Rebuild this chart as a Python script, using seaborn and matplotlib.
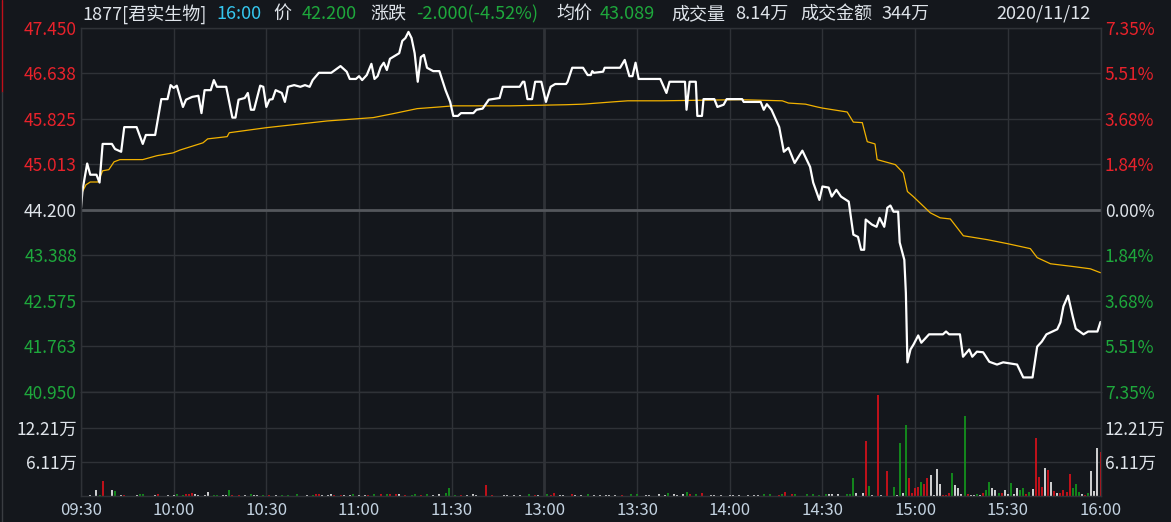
import pandas as pd
import matplotlib.pyplot as plt
from matplotlib.lines import Line2D
import seaborn as sns

# 分时数据 (分钟序号: 0 = 09:30, 150 = 12:00/13:00, 330 = 16:00)
price_minute = [0, 0.5, 2, 3, 5, 6, 7, 10, 11, 13, 14, 18, 20, 21, 24, 26, 28, 29, 30, 31,
                33, 34, 36, 38, 39, 40, 42, 43, 44, 47, 49, 50, 51, 53, 54, 55, 56, 58, 59, 60,
                61, 62, 63, 65, 66, 67, 69, 71, 72.5, 74, 75, 77, 81, 84, 86, 87, 89, 90, 91, 92.5,
                94, 95, 96, 97, 98, 99, 100, 103, 104, 105, 106, 107, 108, 109, 110, 111, 112, 114, 116, 118,
                119.5, 120.5, 122, 123, 127, 128, 130, 132, 135.5, 136.5, 142, 143, 143.5, 144.5, 146, 147, 149, 150.5, 152, 153.5,
                157, 157.5, 159, 162.5, 164, 165, 165.5, 166, 169, 169.5, 174.5, 176, 177.5, 178.5, 179.5, 180.5, 187.5, 189.5, 190.5, 195.5,
                196, 197, 199, 199.5, 201, 201.5, 205, 206, 208, 209, 214, 214.5, 220, 221, 222, 223.5, 226, 227.5, 229, 231,
                233.5, 236, 237, 239, 240, 242, 243, 244.5, 246, 248.5, 250, 251.5, 252.5, 253.5, 254, 256, 257.5, 258.5, 260, 261,
                262, 263, 264.5, 265, 266.5, 267, 267.5, 268.5, 269.5, 271, 272, 274.5, 279, 280, 281, 284.5, 285.5, 287.5, 288.5, 290,
                292, 294, 296.5, 298.5, 303, 305, 308, 309.5, 311, 312.5, 316, 317, 318, 319.5, 321, 322, 324.5, 326, 329, 330]
price_value = [44.24, 44.56, 45.03, 44.83, 44.83, 44.69, 45.38, 45.38, 45.29, 45.24, 45.68, 45.68, 45.38, 45.54, 45.54, 46.18, 46.18, 46.43, 46.38, 46.42,
               46.04, 46.17, 46.22, 46.24, 45.93, 46.34, 46.34, 46.52, 46.40, 46.40, 45.85, 45.85, 46.17, 46.20, 46.29, 45.99, 45.99, 46.42, 46.40, 46.04,
               46.17, 46.18, 46.34, 46.29, 46.13, 46.40, 46.43, 46.40, 46.43, 46.40, 46.52, 46.65, 46.65, 46.77, 46.67, 46.54, 46.54, 46.59, 46.52, 46.61,
               46.81, 46.54, 46.59, 46.75, 46.83, 46.70, 46.90, 47.00, 47.22, 47.27, 47.38, 47.27, 47.00, 46.49, 46.93, 46.97, 46.74, 46.68, 46.68, 46.34,
               46.13, 45.88, 45.88, 45.93, 45.93, 45.99, 46.01, 46.17, 46.20, 46.40, 46.40, 46.49, 46.49, 46.18, 46.18, 46.49, 46.49, 46.13, 46.40, 46.45,
               46.45, 46.49, 46.74, 46.74, 46.61, 46.61, 46.68, 46.65, 46.67, 46.74, 46.74, 46.88, 46.59, 46.59, 46.83, 46.54, 46.54, 46.29, 46.49, 46.49,
               45.99, 46.49, 46.49, 45.88, 45.88, 46.18, 46.18, 46.04, 46.08, 46.18, 46.18, 46.13, 46.13, 45.99, 46.09, 45.99, 45.68, 45.24, 45.31, 45.04,
               45.26, 44.97, 44.69, 44.38, 44.62, 44.60, 44.44, 44.56, 44.44, 44.35, 43.76, 43.72, 43.49, 43.49, 44.03, 43.94, 43.90, 44.06, 43.90, 44.24,
               44.28, 44.17, 44.17, 43.62, 43.31, 42.72, 41.48, 41.71, 41.80, 41.96, 41.83, 41.98, 41.98, 42.03, 41.98, 41.98, 41.58, 41.71, 41.58, 41.67,
               41.66, 41.49, 41.44, 41.48, 41.44, 41.21, 41.21, 41.76, 41.85, 41.98, 42.07, 42.19, 42.48, 42.67, 42.30, 42.08, 41.98, 42.03, 42.03, 42.20]

avg_minute = [0.5, 1.6, 3, 5.5, 7, 9, 10.7, 12.6, 20, 24.6, 29.8, 32, 39.5, 41, 47.3, 48, 60, 79.7, 94.6, 101,
              108.8, 116, 120.5, 139, 157, 162.5, 172, 177, 188, 213.4, 227, 229, 234.5, 238.3, 240, 248, 250, 252.9, 254.5, 257,
              257.7, 263.6, 266.2, 267.5, 269.4, 274.9, 278.1, 281.4, 285.6, 293.4, 299.8, 307.3, 309.5, 313.8, 321.2, 326.7, 330]
avg_value = [44.53, 44.65, 44.70, 44.70, 44.90, 44.92, 45.06, 45.10, 45.10, 45.17, 45.22, 45.27, 45.40, 45.47, 45.51, 45.58, 45.67, 45.79, 45.85, 45.92,
             46.01, 46.04, 46.06, 46.06, 46.08, 46.09, 46.13, 46.15, 46.15, 46.17, 46.15, 46.11, 46.09, 46.04, 46.02, 45.95, 45.77, 45.76, 45.42, 45.38,
             45.10, 45.01, 44.86, 44.53, 44.44, 44.15, 44.06, 44.04, 43.74, 43.67, 43.60, 43.51, 43.35, 43.24, 43.19, 43.15, 43.08]

# 成交量 (万), 按涨/跌/平分组
up_minute = [0, 7, 14, 25, 34, 35, 36, 49, 51, 61, 76, 77, 82, 84, 93, 97, 100, 102, 105, 110,
             123, 131, 133, 147, 152, 153, 159, 175, 197, 201, 226, 228, 230, 254, 258, 261, 268, 269, 270, 271,
             273, 274, 279, 280, 281, 287, 292, 298, 306, 309, 310, 311, 313, 315, 317, 318, 319, 320, 325, 330]
up_volume = [0.36, 2.75, 0.2, 0.4, 0.3, 0.3, 0.5, 0.2, 0.2, 0.2, 0.4, 0.3, 0.2, 0.2, 0.2, 0.3, 0.3, 0.4, 0.2, 0.2,
             0.2, 2.0, 0.2, 0.2, 0.2, 0.5, 0.4, 0.2, 0.4, 0.5, 0.2, 0.8, 0.3, 9.8, 18.1, 4.5, 3.3, 0.5, 1.4, 1.6,
             2.2, 3.3, 0.2, 0.2, 0.5, 0.4, 0.5, 0.5, 0.4, 10.4, 3.5, 1.7, 4.7, 0.9, 0.5, 1.1, 0.8, 4.0, 0.2, 8.0]

down_minute = [6, 11, 19, 20, 31, 33, 43, 44, 48, 55, 59, 65, 67, 70, 75, 88, 95, 99, 107, 108,
               112, 118, 119, 121, 145, 151, 164, 178, 180, 190, 196, 199, 221, 223, 227, 231, 235, 237, 239, 241,
               248, 249, 250, 255, 263, 265, 267, 272, 282, 286, 290, 293, 294, 297, 301, 304, 305, 307, 321, 322,
               323, 326]
down_volume = [0.2, 0.9, 0.3, 0.3, 0.3, 0.2, 0.2, 0.2, 1.0, 0.3, 0.2, 0.2, 0.2, 0.4, 0.2, 0.3, 0.3, 0.3, 0.2, 0.3,
               0.4, 0.5, 1.5, 0.2, 0.4, 0.4, 0.4, 0.4, 0.4, 0.5, 0.8, 0.4, 0.4, 0.3, 0.4, 0.4, 0.4, 0.4, 0.2, 0.4,
               0.3, 0.3, 3.3, 1.8, 1.6, 9.6, 12.8, 2.6, 4.2, 14.3, 0.4, 1.0, 2.6, 0.5, 2.4, 1.0, 1.5, 0.8, 1.4, 2.2,
               0.8, 0.5]

flat_minute = [3, 5, 10, 13, 18, 24, 28, 30, 37, 38, 40, 41, 46, 47, 53, 56, 57, 63, 73, 78,
               80, 81, 85, 87, 90, 92, 103, 114, 116, 125, 127, 128, 137, 138, 140, 142, 148, 155, 156, 160,
               162, 166, 168, 170, 171, 173, 183, 184, 187, 189, 192, 193, 195, 204, 205, 207, 210, 211, 213, 216,
               218, 219, 242, 243, 245, 251, 253, 256, 259, 264, 266, 275, 276, 277, 278, 283, 284, 285, 288, 289,
               291, 295, 296, 299, 300, 302, 303, 308, 312, 314, 316, 324, 327, 328, 329]
flat_volume = [0.2, 1.1, 1.1, 0.2, 0.2, 0.2, 0.2, 0.2, 0.3, 0.2, 0.2, 0.8, 0.2, 0.2, 0.2, 0.2, 0.2, 0.2, 0.2, 0.2,
               0.2, 0.3, 0.2, 0.2, 0.2, 0.2, 0.3, 0.2, 0.3, 0.2, 0.4, 0.2, 0.2, 0.2, 0.2, 0.2, 0.2, 0.2, 0.2, 0.2,
               0.2, 0.2, 0.2, 0.2, 0.2, 0.2, 0.2, 0.2, 0.4, 0.2, 0.4, 0.2, 0.4, 0.2, 0.2, 0.2, 0.2, 0.2, 0.2, 0.2,
               0.2, 0.2, 0.4, 0.3, 0.3, 0.5, 0.5, 0.2, 0.2, 0.2, 0.5, 3.7, 0.2, 4.9, 2.2, 2.0, 1.4, 0.4, 0.2, 0.2,
               0.2, 1.5, 1.0, 1.0, 0.4, 0.4, 1.4, 1.3, 5.1, 2.6, 0.5, 0.4, 4.5, 0.9, 8.7]

time_ticks = [0, 30, 60, 90, 120, 150, 180, 210, 240, 270, 300, 330]
time_labels = ['09:30', '10:00', '10:30', '11:00', '11:30', '13:00', '13:30',
               '14:00', '14:30', '15:00', '15:30', '16:00']
price_ticks = [47.450, 46.638, 45.825, 45.013, 44.200, 43.388, 42.575, 41.763, 40.950]
price_labels = ['47.450', '46.638', '45.825', '45.013', '44.200', '43.388', '42.575', '41.763', '40.950']
pct_labels = ['7.35%', '5.51%', '3.68%', '1.84%', '0.00%', '1.84%', '3.68%', '5.51%', '7.35%']
vol_ticks = [6.11, 12.21]
vol_labels = ['6.11万', '12.21万']

BG = '#14171c'
GRID = '#2f3237'
RED = '#e8222b'
GREEN = '#1ea83c'
WHITE = '#dfe4ea'
AXIS_TXT = '#c3d2e0'

sns.set_theme(style='dark', rc={'figure.facecolor': BG, 'axes.facecolor': BG,
                                'axes.edgecolor': GRID, 'grid.color': GRID})
plt.rcParams['font.family'] = ['Noto Sans CJK SC', 'DejaVu Sans']

W, H = 1171, 522
fig = plt.figure(figsize=(W / 100, H / 100), dpi=100)
L, R = 81 / W, 1100.5 / W
ax = fig.add_axes([L, 1 - 392 / H, R - L, (392 - 28) / H])
axv = fig.add_axes([L, 1 - 496 / H, R - L, (496 - 392) / H])

price_df = pd.DataFrame({'minute': price_minute, 'price': price_value})
avg_df = pd.DataFrame({'minute': avg_minute, 'price': avg_value})

# 网格
for a in (ax, axv):
    for t in time_ticks:
        lw = 2.0 if t == 150 else 1.0
        a.axvline(t, color=GRID, lw=lw, zorder=0)
    for s in a.spines.values():
        s.set_color(GRID)
        s.set_linewidth(1.0)
for p in price_ticks:
    if abs(p - 44.2) < 1e-6:
        ax.axhline(p, color='#54575c', lw=2.0, zorder=0)
    else:
        ax.axhline(p, color=GRID, lw=1.0, zorder=0)
for v in vol_ticks:
    axv.axhline(v, color=GRID, lw=1.0, zorder=0)

sns.lineplot(data=avg_df, x='minute', y='price', ax=ax, color='#f2b200', lw=0.9,
             estimator=None, sort=False)
sns.lineplot(data=price_df, x='minute', y='price', ax=ax, color='white', lw=1.6,
             estimator=None, sort=False)

ax.set_xlim(0, 330)
ax.set_ylim(40.95, 47.45)
ax.set_xticks(time_ticks)
ax.set_xticklabels([])
ax.tick_params(axis='x', length=0)
ax.set_yticks(price_ticks)
ax.set_yticklabels(price_labels)
ax.tick_params(axis='y', length=0, pad=3, labelsize=12.5)
ax.set_xlabel('')
ax.set_ylabel('')
ax.grid(False)
for lab, p in zip(ax.get_yticklabels(), price_ticks):
    lab.set_color(RED if p > 44.21 else (GREEN if p < 44.19 else WHITE))

axr = ax.twinx()
axr.set_ylim(40.95, 47.45)
axr.set_yticks(price_ticks)
axr.set_yticklabels(pct_labels)
axr.tick_params(axis='y', length=0, pad=3, labelsize=12.5)
axr.grid(False)
for s in axr.spines.values():
    s.set_visible(False)
for lab, p in zip(axr.get_yticklabels(), price_ticks):
    lab.set_color(RED if p > 44.21 else (GREEN if p < 44.19 else WHITE))

# 成交量
axv.vlines(up_minute, 0, up_volume, color='#e0101a', lw=1.2)
axv.vlines(down_minute, 0, down_volume, color='#139c1c', lw=1.2)
axv.vlines(flat_minute, 0, flat_volume, color='#f2f2f2', lw=1.2)
axv.set_xlim(0, 330)
axv.set_ylim(0, 18.7)
axv.set_xticks(time_ticks)
axv.set_xticklabels(time_labels)
axv.set_yticks(vol_ticks)
axv.set_yticklabels(vol_labels)
axv.tick_params(axis='x', length=0, labelsize=12, colors=AXIS_TXT, pad=4)
axv.tick_params(axis='y', length=0, labelsize=12.5, pad=3, labelleft=True,
                labelright=True, colors=WHITE)
axv.grid(False)

# 标题栏
ty = 1 - 14 / H
header = [(82, '1877[君实生物]', WHITE), (216, '16:00', '#35c6ee'), (273, '价', WHITE),
          (302, '42.200', GREEN), (370, '涨跌', WHITE), (416, '-2.000(-4.52%)', GREEN),
          (556, '均价', WHITE), (600, '43.089', GREEN), (671, '成交量', WHITE),
          (735, '8.14万', WHITE), (800, '成交金额', WHITE), (881, '344万', WHITE),
          (996, '2020/11/12', WHITE)]
for x, s, c in header:
    fig.text(x / W, ty, s, color=c, fontsize=13, ha='left', va='center')

# 左侧边线
fig.add_artist(Line2D([1.5 / W, 1.5 / W], [1, 1 - 92 / H], color='#c0101a', lw=1.0))
fig.add_artist(Line2D([1.5 / W, 1.5 / W], [1 - 92 / H, 0], color='#3a3d42', lw=1.0))

fig.savefig('out.png', dpi=100, facecolor=BG)
